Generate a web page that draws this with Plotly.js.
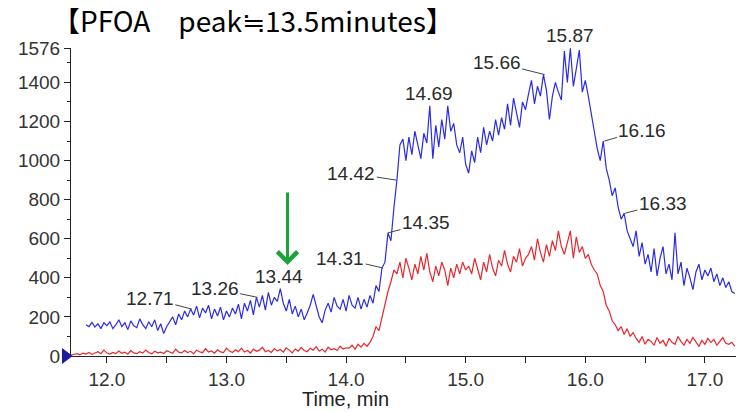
<!DOCTYPE html>
<html>
<head>
<meta charset="utf-8">
<script src="https://cdn.plot.ly/plotly-3.0.1.min.js"></script>
<style>html,body{margin:0;padding:0;background:#fff;}#chart{width:742px;height:412px;}</style>
</head>
<body>
<div id="chart"></div>
<script>
// ---- data ----
const chartTitle = "【PFOA　peak≒13.5minutes】";
const xAxisTitle = "Time, min";

// blue trace (intensity), sampled every 0.025 min starting at 11.825 min
const blueStart = 11.825;
const blueStep = 0.025;
const blueValues = [
  160,150,172,148,165,140,170,155,
  175,140,160,185,150,170,135,180,155,145,190,160,140,175,150,185,130,165,115,150,
  175,200,160,215,185,230,200,240,
  210,255,195,245,220,260,190,240,205,250,185,230,
  200,245,215,265,190,270,230,285,210,300,250,310,235,325,260,300,280,345,
  270,230,290,215,255,200,240,185,220,260,
  315,250,200,170,235,270,225,300,255,240,290,230,310,260,245,300,240,
  290,250,310,270,360,330,450,
  480,630,590,760,900,
  1080,1110,1000,1120,1030,1150,1080,1010,1140,1090,1280,
  1010,1180,1070,1210,1110,1280,1150,1190,1080,1040,1120,980,
  935,1050,990,1120,1040,1170,1080,1150,1100,1210,1130,1220,1160,1290,1180,1320,1240,1170,1300,1260,
  1340,1410,1290,1380,1330,1440,1360,1210,1330,1400,1350,
  1310,1560,1400,1575,1380,1470,1565,1350,1410,1330,1250,1150,1060,1000,1100,960,
  900,820,860,760,700,730,640,600,
  560,640,510,580,470,
  520,430,550,410,500,560,420,470,390,630,
  420,480,360,450,400,340,430,470,390,440,410,450,380,420,360,400,350,380,330,320
];

// red trace (intensity), sampled every 0.025 min starting at 11.70 min
const redStart = 11.70;
const redStep = 0.025;
const redValues = [
  5,8,12,6,15,10,18,8,14,22,12,30,15,
  10,18,12,25,14,20,9,28,16,12,22,15,30,18,11,24,16,20,13,27,19,14,35,20,16,28,18,24,12,30,22,17,38,20,26,14,32,21,18,40,
  25,18,32,22,40,20,28,15,35,24,30,45,22,28,18,38,26,33,20,42,30,16,36,25,44,28,22,40,30,48,26,35,20,45,32,38,28,50,36,42,
  40,55,35,60,45,65,50,70,
  100,150,130,200,
  260,330,380,440,
  420,480,400,500,450,390,470,420,510,440,525,430,380,460,410,480,440,360,450,400,470,420,480,440,
  460,420,500,440,390,480,430,520,450,410,490,460,540,470,430,510,480,550,460,500,
  520,560,490,600,530,480,570,510,590,540,640,560,520,
  580,640,500,610,530,560,500,520,470,440,
  420,360,330,260,230,180,
  160,130,150,110,140,100,120,
  90,70,100,60,85,75,55,95,65,80,50,90,70,60,100,75,55,85,65,95,70,50,80,60,90,70,85,55,75,95,65,60,70,50
];

// peak labels (retention times)
const peakLabels = ["12.71","13.26","13.44","14.31","14.35","14.42","14.69","15.66","15.87","16.16","16.33"];
const peakTimes  = [12.71, 13.26, 13.44, 14.31, 14.35, 14.42, 14.69, 15.66, 15.87, 16.16, 16.33];

// axis ticks
const xTickVals = [12, 13, 14, 15, 16, 17];
const xTickText = ["12.0","13.0","14.0","15.0","16.0","17.0"];
const xMinorVals = [12.5, 13.5, 14.5, 15.5, 16.5];
const yTickVals = [0, 200, 400, 600, 800, 1000, 1200, 1400, 1576];
const yTickText = ["0","200","400","600","800","1000","1200","1400","1576"];
const yMinorVals = [100, 300, 500, 700, 900, 1100, 1300, 1500];

const arrowTime = 13.51;
const arrowValue = 466;

// ---- layout / styles ----
const labelLayout = {
  "12.71": {ax:-42, ay:-11, leader:true},
  "13.26": {ax:-43, ay:-9, leader:true},
  "13.44": {leader:false},
  "14.31": {ax:-43, ay:-10, leader:true},
  "14.35": {ax:38, ay:-10, leader:true},
  "14.42": {ax:-45, ay:-7, leader:true},
  "14.69": {leader:false},
  "15.66": {ax:-48, ay:-12, leader:true},
  "15.87": {leader:false},
  "16.16": {ax:38, ay:-11, leader:true},
  "16.33": {ax:38, ay:-10, leader:true}
};

function valueAt(t) {
  const i = Math.round((t - blueStart) / blueStep);
  return blueValues[Math.max(0, Math.min(blueValues.length - 1, i))];
}

const labelFont = {family: "Liberation Sans, Arial, sans-serif", size: 19, color: "#2a2a2a"};
const annotations = peakLabels.map((lab, k) => {
  const cfg = labelLayout[lab];
  const base = {x: peakTimes[k], y: valueAt(peakTimes[k]), xref: "x", yref: "y", text: lab, font: labelFont};
  if (cfg.leader) {
    return Object.assign(base, {showarrow: true, arrowhead: 0, arrowwidth: 1, arrowcolor: "#444", ax: cfg.ax, ay: cfg.ay, standoff: 0});
  }
  return Object.assign(base, {showarrow: false, yanchor: "bottom", yshift: 0});
});

annotations.push({
  x: arrowTime, y: arrowValue, xref: "x", yref: "y", text: "",
  showarrow: true, arrowhead: 4, arrowsize: 1.3, arrowwidth: 3, arrowcolor: "#1aa33a",
  ax: 0, ay: -74, standoff: 0
});
annotations.push({
  x: (345 - 71) / 665, y: (356 - 399) / 308, xref: "paper", yref: "paper", text: xAxisTitle,
  showarrow: false, xanchor: "center", yanchor: "middle",
  font: {family: "Liberation Sans, Arial, sans-serif", size: 20, color: "#222"}
});

// start-of-window triangle marker (decoration at the x-axis origin)
const shapes = [{
  type: "path", xref: "paper", yref: "paper", layer: "above",
  path: "M -0.0135,-0.026 L 0.0025,0 L -0.0135,0.026 Z",
  fillcolor: "#1c1c9c", line: {width: 0}
}];

const traces = [
  {type: "scatter", mode: "lines", x0: redStart, dx: redStep, y: redValues,
   line: {color: "#e8262b", width: 1.2}, hoverinfo: "skip", showlegend: false},
  {type: "scatter", mode: "lines", x0: blueStart, dx: blueStep, y: blueValues,
   line: {color: "#2b2be6", width: 1.2}, hoverinfo: "skip", showlegend: false}
];

const tickFont = {family: "Liberation Sans, Arial, sans-serif", size: 19, color: "#333"};
const layout = {
  width: 742, height: 412,
  margin: {l: 71, r: 6, t: 48, b: 56, pad: 0},
  paper_bgcolor: "#fff", plot_bgcolor: "#fff",
  showlegend: false,
  title: {
    text: chartTitle, xref: "container", yref: "container",
    x: 52 / 742, xanchor: "left", y: 1 - 22 / 412, yanchor: "middle",
    font: {family: "Noto Sans CJK JP, sans-serif", size: 28, color: "#000"}
  },
  xaxis: {
    range: [11.70, 17.26], showgrid: false, zeroline: false,
    showline: true, linecolor: "#222", linewidth: 1,
    ticks: "outside", ticklen: 6, tickcolor: "#222", tickwidth: 1,
    tickmode: "array", tickvals: xTickVals, ticktext: xTickText,
    minor: {tickmode: "array", tickvals: xMinorVals, ticks: "outside", ticklen: 6, tickcolor: "#222", showgrid: false},
    tickfont: tickFont
  },
  yaxis: {
    range: [0, 1576], showgrid: false, zeroline: false,
    showline: true, linecolor: "#222", linewidth: 1,
    ticks: "outside", ticklen: 6, tickcolor: "#222", tickwidth: 1,
    tickmode: "array", tickvals: yTickVals, ticktext: yTickText,
    minor: {tickmode: "array", tickvals: yMinorVals, ticks: "outside", ticklen: 3, tickcolor: "#222", showgrid: false},
    tickfont: tickFont
  },
  shapes: shapes,
  annotations: annotations
};

Plotly.newPlot("chart", traces, layout, {staticPlot: true, displayModeBar: false});
</script>
</body>
</html>
